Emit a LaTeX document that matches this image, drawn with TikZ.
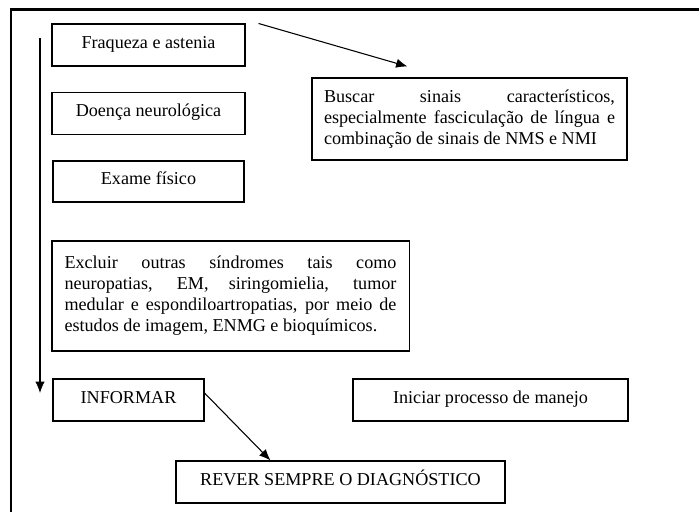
\documentclass[tikz,border=0pt]{standalone}
\usepackage{fontspec}
\setmainfont{Liberation Serif}
\usetikzlibrary{positioning}
\usetikzlibrary{calc}
\usetikzlibrary{shapes.geometric, arrows, arrows.meta}

\tikzset{
    box/.style={draw, rectangle, line width=0.8pt, inner sep=0pt,
        font=\fontsize{13.6pt}{15.8pt}\selectfont, text height=9.5pt, text depth=5pt},
    parbox/.style={draw, rectangle, line width=0.8pt, inner ysep=0pt,
        font=\fontsize{13.6pt}{15.8pt}\selectfont, align=justify},
    link/.style={-{Latex[length=8.5pt, width=7pt]}, line width=0.8pt},
}

\begin{document}
\begin{tikzpicture} [x=0.75pt, y=-0.75pt]
    \useasboundingbox (0,0) rectangle (699,512);
    % frame: only top and left side are visible
    \draw[line width=1.9pt] (11,512) -- (11,9.5) -- (699,9.5);

    % left column
    \node (fraq) [box, minimum width=144.75pt, minimum height=31.5pt] at (148.5, 45) {Fraqueza e astenia};
    \node (doenca) [box, minimum width=144.75pt, minimum height=31pt] at (148.5, 113.5) {Doença neurológica};
    \node (exame) [box, minimum width=143.25pt, minimum height=30.75pt] at (148.5, 181.5) {Exame físico};
    \node (excluir) [parbox, text width=249pt, inner xsep=9.4pt, minimum height=82.5pt] at (230.5, 296)
        {Excluir outras síndromes tais como\linebreak
         neuropatias, EM, siringomielia, tumor\linebreak
         medular e espondiloartropatias, por meio de\linebreak
         estudos de imagem, ENMG e bioquímicos.};

    % right side
    \node (buscar) [parbox, text width=218.25pt, inner xsep=9pt, minimum height=61.5pt] at (469.5, 119)
        {Buscar sinais característicos,\linebreak
         especialmente fasciculação de língua e\linebreak
         combinação de sinais de NMS e NMI};

    % bottom row
    \node (informar) [box, minimum width=113.25pt, minimum height=31.5pt] at (128.5, 400) {INFORMAR};
    \node (iniciar) [box, minimum width=206.25pt, minimum height=31.5pt] at (490.5, 400) {Iniciar processo de manejo};
    \node (rever) [box, minimum width=246.75pt, minimum height=31.5pt] at (340.5, 482) {REVER SEMPRE O DIAGNÓSTICO};

    % arrows
    \coordinate (flowtop) at (40, 38);
    \coordinate (flowend) at (40, 393);
    \draw[link] (flowtop) -- (flowend);

    \coordinate (signsfrom) at ($(fraq.north east) + (13, 0)$);
    \coordinate (signsto) at ($(buscar.north west) + (96, -11)$);
    \draw[link] (signsfrom) -- (signsto);

    \draw[link] ($(informar.east) + (0, -7)$) -- ($(rever.north) + (-70, 0)$);

\end{tikzpicture}
\end{document}
